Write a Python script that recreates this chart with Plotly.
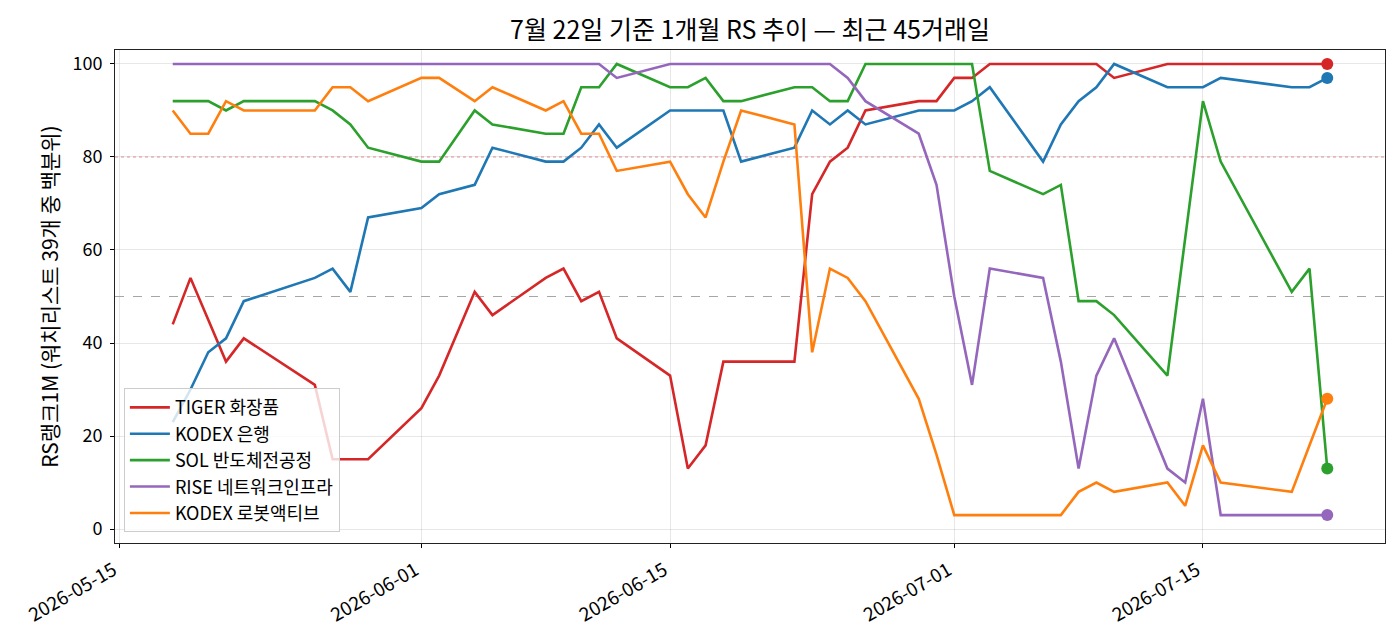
import plotly.graph_objects as go

dates = [
    "2026-05-18", "2026-05-19", "2026-05-20", "2026-05-21", "2026-05-22",
    "2026-05-26", "2026-05-27", "2026-05-28", "2026-05-29",
    "2026-06-01", "2026-06-02", "2026-06-04", "2026-06-05",
    "2026-06-08", "2026-06-09", "2026-06-10", "2026-06-11", "2026-06-12",
    "2026-06-15", "2026-06-16", "2026-06-17", "2026-06-18", "2026-06-19",
    "2026-06-22", "2026-06-23", "2026-06-24", "2026-06-25", "2026-06-26",
    "2026-06-29", "2026-06-30", "2026-07-01", "2026-07-02", "2026-07-03",
    "2026-07-06", "2026-07-07", "2026-07-08", "2026-07-09", "2026-07-10",
    "2026-07-13", "2026-07-14", "2026-07-15", "2026-07-16",
    "2026-07-20", "2026-07-21", "2026-07-22",
]

tiger_cosmetics = [44, 54, 45, 36, 41, 31, 15, 15, 15, 26, 33, 51, 46,
                   54, 56, 49, 51, 41, 33, 13, 18, 36, 36, 36, 72, 79, 82, 90,
                   92, 92, 97, 97, 100, 100, 100, 100, 100, 97, 100, 100, 100, 100,
                   100, 100, 100]
kodex_bank = [23, 30, 38, 41, 49, 54, 56, 51, 67, 69, 72, 74, 82,
              79, 79, 82, 87, 82, 90, 90, 90, 90, 79, 82, 90, 87, 90, 87,
              90, 90, 90, 92, 95, 79, 87, 92, 95, 100, 95, 95, 95, 97,
              95, 95, 97]
sol_semi = [92, 92, 92, 90, 92, 92, 90, 87, 82, 79, 79, 90, 87,
            85, 85, 95, 95, 100, 95, 95, 97, 92, 92, 95, 95, 92, 92, 100,
            100, 100, 100, 100, 77, 72, 74, 49, 49, 46, 33, 62, 92, 79,
            51, 56, 13]
rise_network = [100, 100, 100, 100, 100, 100, 100, 100, 100, 100, 100, 100, 100,
                100, 100, 100, 100, 97, 100, 100, 100, 100, 100, 100, 100, 100, 97, 92,
                85, 74, 50, 31, 56, 54, 36, 13, 33, 41, 13, 10, 28, 3,
                3, 3, 3]
kodex_robot = [90, 85, 85, 92, 90, 90, 95, 95, 92, 97, 97, 92, 95,
               90, 92, 85, 85, 77, 79, 72, 67, 79, 90, 87, 38, 56, 54, 49,
               28, 16, 3, 3, 3, 3, 3, 8, 10, 8, 10, 5, 18, 10,
               8, 18, 28]

series_names = ["TIGER 화장품", "KODEX 은행", "SOL 반도체전공정", "RISE 네트워크인프라", "KODEX 로봇액티브"]
series_values = [tiger_cosmetics, kodex_bank, sol_semi, rise_network, kodex_robot]
series_colors = ["#d62728", "#1f77b4", "#2ca02c", "#9467bd", "#ff7f0e"]

tick_dates = ["2026-05-15", "2026-06-01", "2026-06-15", "2026-07-01", "2026-07-15"]
y_ticks = [0, 20, 40, 60, 80, 100]

FONT = "Noto Sans CJK KR"

fig = go.Figure()
for i, (name, vals, col) in enumerate(zip(series_names, series_values, series_colors)):
    fig.add_trace(go.Scatter(
        x=dates, y=vals, mode="lines", name=name, legendgroup=f"g{i}",
        line=dict(color=col, width=2.6),
    ))
for i, (name, vals, col) in enumerate(zip(series_names, series_values, series_colors)):
    fig.add_trace(go.Scatter(
        x=[dates[-1]], y=[vals[-1]], mode="markers", showlegend=False,
        legendgroup=f"g{i}",
        marker=dict(color=col, size=12, line=dict(width=0)),
        hoverinfo="skip",
    ))

fig.add_hline(y=80, line=dict(color="rgba(214,39,40,0.55)", width=1, dash="dot"), layer="below")
fig.add_hline(y=50, line=dict(color="rgba(128,128,128,0.7)", width=1, dash="dash"), layer="below")

fig.update_layout(
    width=1400, height=644,
    margin=dict(l=115, r=15, t=50, b=101),
    paper_bgcolor="white", plot_bgcolor="white",
    font=dict(family=FONT, size=17, color="black"),
    title=dict(text="7월 22일 기준 1개월 RS 추이 — 최근 45거래일",
               xref="paper", x=0.5, xanchor="center", y=0.953, yanchor="middle",
               font=dict(family=FONT, size=25, color="black")),
    showlegend=True,
    legend=dict(x=0.007, y=0.022, xanchor="left", yanchor="bottom",
                bgcolor="rgba(255,255,255,0.8)", bordercolor="#cccccc", borderwidth=1,
                font=dict(family=FONT, size=18, color="black"),
                tracegroupgap=0, itemwidth=40),
)

fig.update_xaxes(
    type="date",
    range=["2026-05-14 18:00", "2026-07-25 06:00"],
    tickmode="array", tickvals=tick_dates, ticktext=tick_dates,
    tickangle=-30,
    ticks="outside", ticklen=4, tickcolor="black",
    ticklabelstandoff=4, ticklabelshift=-6,
    showgrid=True, gridcolor="rgba(176,176,176,0.3)", gridwidth=1,
    showline=True, linecolor="#222222", linewidth=1, mirror=True,
    zeroline=False,
    tickfont=dict(family=FONT, size=19, color="black"),
)
fig.update_yaxes(
    range=[-3, 103],
    tickmode="array", tickvals=y_ticks,
    ticks="outside", ticklen=4, tickcolor="black",
    ticklabelstandoff=4,
    showgrid=True, gridcolor="rgba(176,176,176,0.3)", gridwidth=1,
    showline=True, linecolor="#222222", linewidth=1, mirror=True,
    zeroline=False,
    title=dict(text="RS랭크1M (워치리스트 39개 중 백분위)", font=dict(family=FONT, size=21, color="black"), standoff=8),
    tickfont=dict(family=FONT, size=18, color="black"),
)

fig.write_html("out.html")
